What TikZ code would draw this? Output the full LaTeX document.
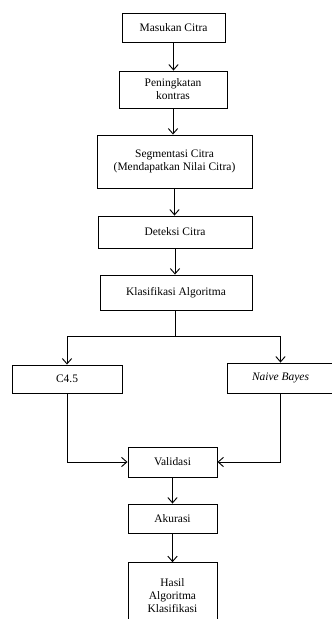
\documentclass[tikz,border=0pt]{standalone}
\usepackage{fontspec}
\setmainfont{Liberation Serif}
\usetikzlibrary{arrows.meta}

\begin{document}
\begin{tikzpicture}[x=0.75pt,y=-0.75pt,
    box/.style={draw,line width=0.7pt,align=center,font=\fontsize{8.6}{9.8}\selectfont,inner sep=1pt},
    arr/.style={line width=0.7pt,-{Straight Barb[length=4pt,width=7pt]}}]
    \clip (0,0) rectangle (332,619);
    \node[box,minimum width=77.25pt,minimum height=21.75pt] (masukan) at (173.5,27.5) {Masukan Citra};
    \node[box,minimum width=81pt,minimum height=27.75pt] (peningkatan) at (173,89.5) {Peningkatan\\kontras};
    \node[box,minimum width=116.25pt,minimum height=39.75pt] (segmentasi) at (174.5,161.5) {Segmentasi Citra\\(Mendapatkan Nilai Citra)};
    \node[box,minimum width=115.5pt,minimum height=24pt] (deteksi) at (175,232) {Deteksi Citra};
    \node[box,minimum width=114pt,minimum height=26.25pt] (klasifikasi) at (176,292.5) {Klasifikasi Algoritma};
    \node[box,minimum width=82.5pt,minimum height=21pt] (c45) at (67,379) {C4.5};
    \node[box,minimum width=80pt,minimum height=22.5pt] (naive) at (280.5,378) {\itshape Naive Bayes};
    \node[box,minimum width=66.75pt,minimum height=22.5pt] (validasi) at (172.5,462) {Validasi};
    \node[box,minimum width=66.75pt,minimum height=21.75pt] (akurasi) at (172.5,518.5) {Akurasi};
    \node[box,minimum width=66.75pt,minimum height=50pt] (hasil) at (172.5,596) {Hasil\\Algoritma\\Klasifikasi};
    \coordinate (split) at (175,336);

    \draw[arr] (masukan.south) -- (masukan.south |- peningkatan.north);
    \draw[arr] (peningkatan.south) -- (peningkatan.south |- segmentasi.north);
    \draw[arr] (segmentasi.south) -- (segmentasi.south |- deteksi.north);
    \draw[arr] (deteksi.south) -- (deteksi.south |- klasifikasi.north);
    \draw[line width=0.7pt] (klasifikasi.south -| split) -- (split);
    \draw[arr] (split) -| (c45.north);
    \draw[arr] (split) -| (naive.north);
    \draw[arr] (c45.south) |- (validasi.west);
    \draw[arr] (naive.south) |- (validasi.east);
    \draw[arr] (validasi.south) -- (validasi.south |- akurasi.north);
    \draw[arr] (akurasi.south) -- (akurasi.south |- hasil.north);
\end{tikzpicture}
\end{document}
